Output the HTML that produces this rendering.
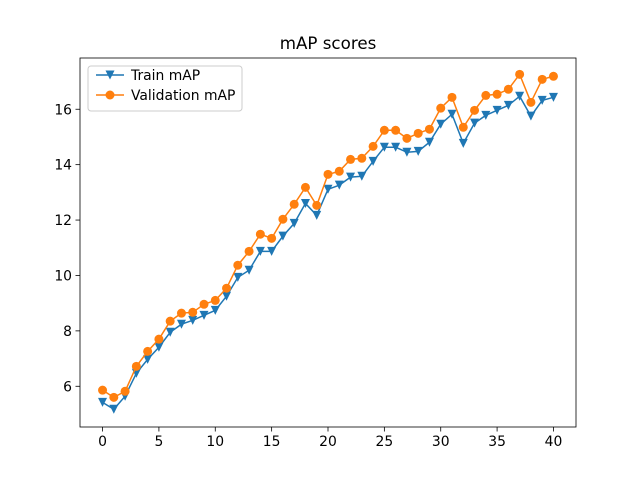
<!DOCTYPE html>
<html><head><meta charset="utf-8"><style>body{margin:0;background:#fff}svg{display:block;font-family:"DejaVu Sans","Liberation Sans",sans-serif}</style></head>
<body>
<svg id="c" width="640" height="480" xmlns="http://www.w3.org/2000/svg"></svg>
<script>
const xTicks=[0,5,10,15,20,25,30,35,40];
const yTicks=[6,8,10,12,14,16];
const trainMAP=[5.42,5.17,5.64,6.47,6.97,7.41,7.95,8.24,8.38,8.56,8.74,9.25,9.93,10.19,10.87,10.87,11.42,11.88,12.6,12.17,13.11,13.26,13.55,13.58,14.12,14.63,14.63,14.45,14.48,14.81,15.46,15.82,14.77,15.5,15.78,15.96,16.14,16.47,15.75,16.32,16.43];
const valMAP=[5.86,5.6,5.82,6.72,7.26,7.7,8.35,8.64,8.67,8.96,9.1,9.54,10.37,10.87,11.49,11.34,12.03,12.57,13.18,12.53,13.65,13.76,14.19,14.23,14.66,15.24,15.24,14.95,15.13,15.28,16.04,16.43,15.35,15.96,16.5,16.54,16.72,17.26,16.25,17.08,17.19];
const NS="http://www.w3.org/2000/svg",svg=document.getElementById('c');
const L=80,R=576,T=58,B=427;
const xmin=-2,xmax=42,ymin=4.53,ymax=17.85;
const X=v=>L+(v-xmin)/(xmax-xmin)*(R-L);
const Y=v=>B-(v-ymin)/(ymax-ymin)*(B-T);
function el(t,a,txt){const e=document.createElementNS(NS,t);for(const k in a)e.setAttribute(k,a[k]);if(txt!=null)e.textContent=txt;svg.appendChild(e);return e;}
let e=el('text',{x:328,y:49,'font-size':16.7,'text-anchor':'middle',fill:'#000'},'mAP scores');


xTicks.forEach(v=>{
 let t=el('line',{x1:X(v),x2:X(v),y1:B,y2:B+4.5,stroke:'#000','stroke-width':0.8});
 
 
 let l=el('text',{x:X(v),y:B+19,'font-size':13.9,'text-anchor':'middle'},String(v));
 
 
});
yTicks.forEach(v=>{
 let t=el('line',{x1:L-4.5,x2:L,y1:Y(v),y2:Y(v),stroke:'#000','stroke-width':0.8});
 
 
 let l=el('text',{x:L-8,y:Y(v)+5,'font-size':13.9,'text-anchor':'end'},String(v));
 
 
});
function series(d,color,marker,name){
 let p=el('polyline',{points:d.map((v,i)=>X(i)+','+Y(v)).join(' '),fill:'none',stroke:color,'stroke-width':1.5});
 
 
 d.forEach((v,i)=>{
  let m;
  if(marker==='tri'){const x=X(i),y=Y(v);m=el('polygon',{points:`${x-4.5},${y-4.5} ${x+4.5},${y-4.5} ${x},${y+4.5}`,fill:color});}
  else m=el('circle',{cx:X(i),cy:Y(v),r:4.5,fill:color});
  
  
 });
}
series(trainMAP,'#1f77b4','tri','train-map');
series(valMAP,'#ff7f0e','dot','validation-map');
e=el('rect',{x:L,y:T,width:R-L,height:B-T,fill:'none',stroke:'#000','stroke-width':0.8});


e=el('rect',{x:88,y:66,width:154,height:45,rx:3,fill:'#fff','fill-opacity':0.8,stroke:'#ccc','stroke-width':1});


[[75,'#1f77b4','tri','Train mAP'],[95,'#ff7f0e','dot','Validation mAP']].forEach(([y,c,m,t])=>{
 let g=el('line',{x1:96,x2:124,y1:y,y2:y,stroke:c,'stroke-width':1.5});
 
 
 let mk=m==='tri'?el('polygon',{points:`105.5,${y-4.5} 114.5,${y-4.5} 110,${y+4.5}`,fill:c}):el('circle',{cx:110,cy:y,r:4.5,fill:c});
 
 
 let tx=el('text',{x:131,y:y+5,'font-size':13.9},t);
 
 
});
</script>
</body></html>
